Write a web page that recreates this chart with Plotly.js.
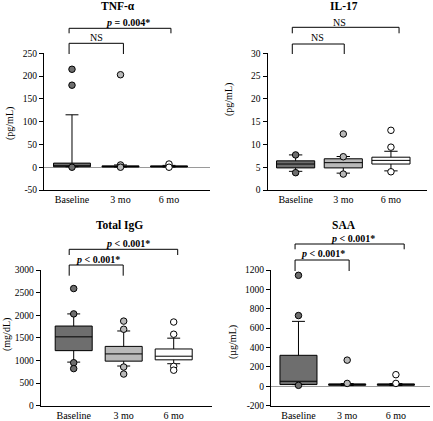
<!DOCTYPE html>
<html><head><meta charset="utf-8">
<script src="https://cdn.plot.ly/plotly-3.0.1.min.js"></script>
<style>html,body{margin:0;padding:0;background:#fff}#chart{width:433px;height:421px}</style>
</head><body><div id="chart"></div>
<script>
// ---- data ----
const groups = ['Baseline', '3 mo', '6 mo'];
const groupColors = ['#6e6e6e', '#b9b9b9', '#ffffff'];

const tnfQ1 = [1, 0.5, 0.5];
const tnfMedian = [3, 1.5, 1.5];
const tnfQ3 = [9, 3, 3];
const tnfLower = [1, 0.5, 0.5];
const tnfUpper = [115, 5, 4];
const tnfOutliers = [[215, 180, 0], [203, 5, 0], [7, 0]];

const il17Q1 = [4.85, 4.85, 5.7];
const il17Median = [5.7, 6.0, 6.5];
const il17Q3 = [6.4, 6.85, 7.2];
const il17Lower = [4.1, 3.7, 4.2];
const il17Upper = [7.7, 7.35, 8.5];
const il17Outliers = [[7.7, 3.8], [12.3, 7.3, 3.5], [13.1, 9.4, 4.0]];

const iggQ1 = [1217, 985, 1014];
const iggMedian = [1522, 1145, 1094];
const iggQ3 = [1761, 1311, 1254];
const iggLower = [964, 877, 928];
const iggUpper = [2029, 1652, 1493];
const iggOutliers = [[2590, 2030, 950, 820], [1870, 1690, 855, 700], [1850, 1580, 870, 785]];

const saaQ1 = [18, 10, 10];
const saaMedian = [52, 18, 18];
const saaQ3 = [320, 25, 25];
const saaLower = [18, 8, 8];
const saaUpper = [670, 28, 28];
const saaOutliers = [[1145, 730, 10], [270, 30], [120, 30]];

const panelTitles = ['TNF-\u03b1', 'IL-17', 'Total IgG', 'SAA'];
const unitLabels = ['(pg/mL)', '(pg/mL)', '(mg/dL)', '(\u00b5g/mL)'];
const yRanges = [[-50, 250], [0, 30], [0, 3000], [-200, 1200]];
const yDticks = [50, 5, 500, 200];
const pInner = ['NS', 'NS', '<b><i>p</i> < 0.001*</b>', '<b><i>p</i> < 0.001*</b>'];
const pOuter = ['<b><i>p</i> = 0.004*</b>', 'NS', '<b><i>p</i> < 0.001*</b>', '<b><i>p</i> < 0.001*</b>'];

// ---- layout helpers (pixel -> paper) ----
const W = 433, H = 421;
const px = v => v / W;
const py = v => 1 - v / H;

const panels = [
  {s: '', q1: tnfQ1, med: tnfMedian, q3: tnfQ3, lo: tnfLower, hi: tnfUpper, out: tnfOutliers,
   xdom: [44, 210], ydom: [53.3, 190], xr: [-0.577, 2.845], bw: 0.76, zero: true,
   title: [118, 6], unit: [10, 124],
   br: {l: -0.06, r1: 1.06, r2: 2.04, oTop: 28.3, oLeg: 33.3, iTop: 43.3, iLeg: 54, tO: [1.15, 22.7], tI: [0.51, 37.7]}},
  {s: '2', q1: il17Q1, med: il17Median, q3: il17Q3, lo: il17Lower, hi: il17Upper, out: il17Outliers,
   xdom: [267.5, 426.7], ydom: [53.3, 190], xr: [-0.59, 2.75], bw: 0.8, zero: false,
   title: [344, 6], unit: [229, 100],
   br: {l: -0.07, r1: 1.02, r2: 2.17, oTop: 27.3, oLeg: 33.3, iTop: 44, iLeg: 54, tO: [0.92, 22.3], tI: [0.46, 37.7]}},
  {s: '3', q1: iggQ1, med: iggMedian, q3: iggQ3, lo: iggLower, hi: iggUpper, out: iggOutliers,
   xdom: [40.7, 211.7], ydom: [270, 405.7], xr: [-0.66, 2.76], bw: 0.74, zero: false,
   title: [120, 225], unit: [7, 335],
   br: {l: -0.09, r1: 0.99, r2: 2.08, oTop: 249.3, oLeg: 255, iTop: 265, iLeg: 275.7, tO: [1.08, 243.3], tI: [0.48, 259.5]}},
  {s: '4', q1: saaQ1, med: saaMedian, q3: saaQ3, lo: saaLower, hi: saaUpper, out: saaOutliers,
   xdom: [271, 430], ydom: [270, 405.7], xr: [-0.564, 2.7], bw: 0.76, zero: true,
   title: [344, 225], unit: [233, 342],
   br: {l: -0.07, r1: 1.04, r2: 2.17, oTop: 244, oLeg: 249.3, iTop: 260, iLeg: 271, tO: [1.11, 238], tI: [0.5, 253.3]}}
];

const serif = 'Liberation Serif, Times New Roman, serif';
const traces = [];
const layout = {
  width: W, height: H, margin: {l: 0, r: 0, t: 0, b: 0},
  paper_bgcolor: '#fff', plot_bgcolor: '#fff', showlegend: false,
  font: {family: serif, color: '#000'},
  shapes: [], annotations: []
};

panels.forEach((p, k) => {
  const xa = 'x' + p.s, ya = 'y' + p.s;
  groups.forEach((g, i) => {
    traces.push({
      type: 'box', x: [g], q1: [p.q1[i]], median: [p.med[i]], q3: [p.q3[i]],
      lowerfence: [p.lo[i]], upperfence: [p.hi[i]],
      xaxis: xa, yaxis: ya, width: p.bw, whiskerwidth: 0.35, boxpoints: false,
      fillcolor: groupColors[i], line: {color: '#000', width: 1}, hoverinfo: 'skip'
    });
    traces.push({
      type: 'scatter', mode: 'markers', x: p.out[i].map(() => g), y: p.out[i],
      xaxis: xa, yaxis: ya, cliponaxis: false, hoverinfo: 'skip',
      marker: {size: 6.5, color: groupColors[i], line: {color: '#000', width: 1}}
    });
  });
  const [r0, r1] = yRanges[k];
  const tv = [];
  for (let v = r0; v <= r1 + 1e-9; v += yDticks[k]) tv.push(v);
  layout['xaxis' + p.s] = {
    domain: [px(p.xdom[0]), px(p.xdom[1])], range: p.xr, type: 'category',
    categoryorder: 'array', categoryarray: groups, anchor: ya,
    showline: true, linecolor: '#000', linewidth: 1, ticks: '', showgrid: false, zeroline: false,
    tickfont: {family: serif, size: 10, color: '#000'}, fixedrange: true
  };
  layout['yaxis' + p.s] = {
    domain: [py(p.ydom[1]), py(p.ydom[0])], range: [r0, r1], anchor: xa,
    tickvals: tv, ticktext: tv.map(v => String(v)),
    showline: true, linecolor: '#000', linewidth: 1, ticks: 'outside', ticklen: 4, tickcolor: '#000',
    showgrid: false, zeroline: p.zero, zerolinecolor: '#9a9a9a', zerolinewidth: 1,
    tickfont: {family: serif, size: 9.5, color: '#000'}, fixedrange: true
  };
  // title
  layout.annotations.push({xref: 'paper', yref: 'paper', x: px(p.title[0]), y: py(p.title[1]),
    xanchor: 'center', yanchor: 'middle', showarrow: false, text: '<b>' + panelTitles[k] + '</b>',
    font: {family: serif, size: 11.5, color: '#000'}});
  // unit label
  layout.annotations.push({xref: 'paper', yref: 'paper', x: px(p.unit[0]), y: py(p.unit[1]),
    xanchor: 'center', yanchor: 'middle', showarrow: false, textangle: -90, text: unitLabels[k],
    font: {family: serif, size: 10, color: '#000'}});
  // brackets
  const b = p.br;
  const ln = (x0, y0, x1, y1) => layout.shapes.push({type: 'line', xref: xa, yref: 'paper',
    x0, x1, y0: py(y0), y1: py(y1), line: {color: '#000', width: 1}});
  ln(b.l, b.oLeg, b.l, b.oTop); ln(b.l, b.oTop, b.r2, b.oTop); ln(b.r2, b.oTop, b.r2, b.oLeg);
  ln(b.l, b.iLeg, b.l, b.iTop); ln(b.l, b.iTop, b.r1, b.iTop); ln(b.r1, b.iTop, b.r1, b.iLeg);
  layout.annotations.push({xref: xa, yref: 'paper', x: b.tO[0], y: py(b.tO[1]), xanchor: 'center', yanchor: 'middle',
    showarrow: false, text: pOuter[k], font: {family: serif, size: 10, color: '#000'}});
  layout.annotations.push({xref: xa, yref: 'paper', x: b.tI[0], y: py(b.tI[1]), xanchor: 'center', yanchor: 'middle',
    showarrow: false, text: pInner[k], font: {family: serif, size: 10, color: '#000'}});
});

Plotly.newPlot('chart', traces, layout, {staticPlot: true, displayModeBar: false});
</script>
</body></html>
